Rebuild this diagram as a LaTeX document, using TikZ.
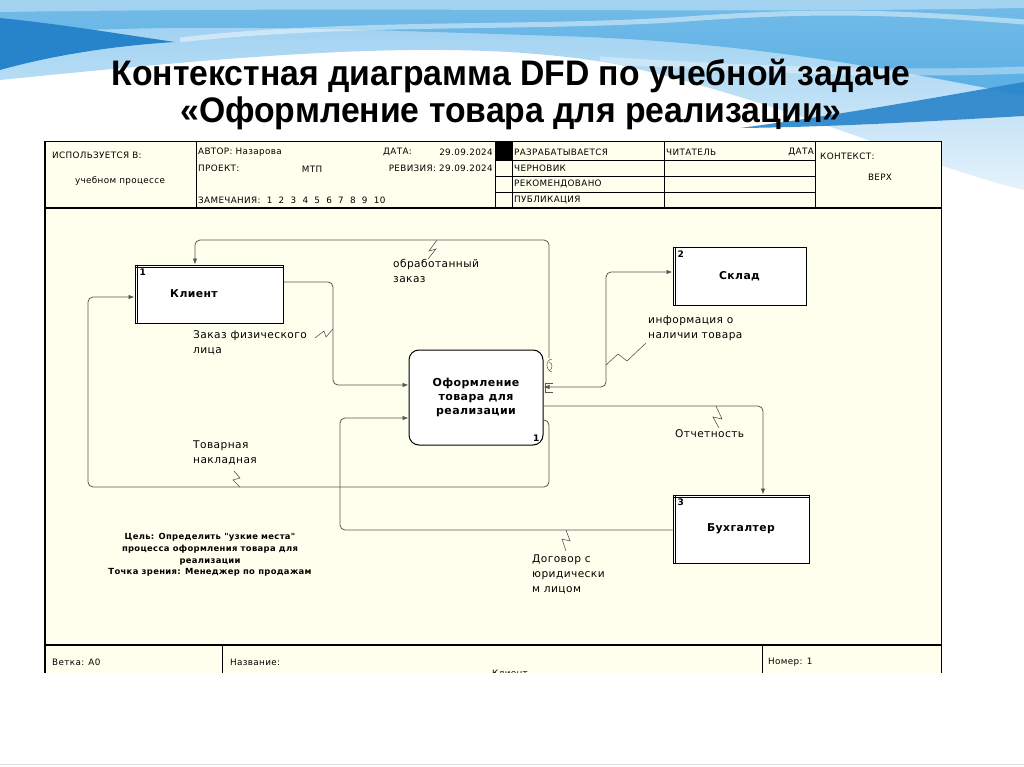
\documentclass[tikz,border=0pt]{standalone}
\usepackage{fontspec}
\setmainfont{DejaVu Sans}
\newfontfamily\titlefont[FakeStretch=0.95]{Liberation Sans}
\newfontfamily\dfd[LetterSpace=4]{DejaVu Sans}
\usetikzlibrary{arrows.meta}
\definecolor{cream}{RGB}{255,255,238}
\definecolor{lineg}{RGB}{85,85,85}
\definecolor{bluea}{RGB}{150,205,240}
\definecolor{blueb}{RGB}{90,175,228}
\definecolor{bluec}{RGB}{40,132,202}
\begin{document}
\begin{tikzpicture}[x=1pt,y=-1pt,
  hdr/.style={font=\dfd\fontsize{8.8}{10}\selectfont, inner sep=0pt, anchor=west},
  lbl/.style={font=\dfd\fontsize{10.6}{15}\selectfont, align=left, inner sep=0pt, anchor=north west},
  flow/.style={draw=lineg, line width=0.8pt, rounded corners=5pt},
  tip/.style={-{Latex[length=6pt,width=4.5pt]}},
  zz/.style={draw=lineg, line width=0.6pt},
  entity/.style={draw=black, line width=1pt, fill=white, inner sep=0pt, font=\dfd\bfseries\fontsize{10.8}{12}\selectfont},
  procbox/.style={draw=black, line width=1pt, fill=white, rounded corners=10pt, inner sep=0pt, align=center, font=\dfd\bfseries\fontsize{11}{14}\selectfont},
  numtxt/.style={font=\bfseries\fontsize{9}{10}\selectfont, inner sep=0pt},
  frameline/.style={draw=black, line width=0.6pt},
  thickline/.style={draw=black, line width=1.4pt}]
\useasboundingbox (0,0) rectangle (1024,767);
\fill[white] (0,0) rectangle (1024,767);
% ---- blue waves ----
\shade[top color=bluea, bottom color=bluea!25] (0,0) -- (1024,0) -- (1024,190) .. controls (920,165) and (780,100) .. (620,65) .. controls (460,35) and (250,55) .. (0,80) -- cycle;
\shade[top color=blueb!85, bottom color=blueb] (0,0) -- (1024,0) -- (1024,95) .. controls (900,72) and (760,42) .. (560,36) .. controls (360,30) and (200,22) .. (0,34) -- cycle;
\fill[bluec] (0,18) .. controls (60,24) and (120,34) .. (175,42) .. controls (110,46) and (50,56) .. (0,70) -- cycle;
\fill[bluec, opacity=0.9] (740,128) .. controls (840,115) and (950,95) .. (1024,82) -- (1024,116) .. controls (950,120) and (840,127) .. (740,128) -- cycle;
\fill[white, opacity=0.35] (0,0) -- (1024,0) -- (1024,8) .. controls (700,14) and (400,6) .. (0,12) -- cycle;
\draw[white, opacity=0.45, line width=5pt] (180,40) .. controls (350,20) and (550,30) .. (700,18) .. controls (820,10) and (900,12) .. (1024,22);
\draw[white, opacity=0.35, line width=7pt] (600,60) .. controls (760,70) and (900,75) .. (1024,70);
\draw[gray!25] (0,764) -- (1024,764);
% ---- title ----
\node[font=\titlefont\bfseries\fontsize{35.5}{40}\selectfont, inner sep=0pt] (t1) at (511,76) {Контекстная диаграмма DFD по учебной задаче};
\node[font=\titlefont\bfseries\fontsize{35.5}{40}\selectfont, inner sep=0pt] (t2) at (511,113) {«Оформление товара для реализации»};
% ---- frame ----
\begin{scope}
\clip (40,130) rectangle (950,672);
\fill[cream] (45,141) rectangle (941,700);
\draw[frameline] (45,141) -- (941,141);
\draw[thickline] (45,141) -- (45,700);
\draw[frameline] (941,141) -- (941,700);
\draw[thickline] (45,208) -- (941,208);
\draw[thickline] (45,645) -- (941,645);
\foreach \x in {196,495,512,664,815} \draw[frameline] (\x,141) -- (\x,208);
\foreach \y in {160,176,192} \draw[frameline] (495,\y) -- (815,\y);
\fill[black] (495,141) rectangle (512,160);
\draw[frameline] (222,645) -- (222,700);
\draw[frameline] (762,645) -- (762,700);
% header text
\node[hdr] (h1) at (52,155) {ИСПОЛЬЗУЕТСЯ В:};
\node[hdr, anchor=center] (h2) at (120,181) {учебном процессе};
\node[hdr] (h3) at (198,152) {АВТОР: Назарова};
\node[hdr] (h4) at (383,152) {ДАТА:};
\node[hdr, anchor=east] (h5) at (493,152) {29.09.2024};
\node[hdr] (h6) at (198,168) {ПРОЕКТ:};
\node[hdr, anchor=center] (h7) at (312,169) {МТП};
\node[hdr, anchor=east] (h8) at (493,168) {РЕВИЗИЯ: 29.09.2024};
\node[hdr] (h9) at (198,200) {ЗАМЕЧАНИЯ:\ \ 1\ \ 2\ \ 3\ \ 4\ \ 5\ \ 6\ \ 7\ \ 8\ \ 9\ \ 10};
\node[hdr] (h10) at (514,152) {РАЗРАБАТЫВАЕТСЯ};
\node[hdr] (h11) at (514,168) {ЧЕРНОВИК};
\node[hdr] (h12) at (514,184) {РЕКОМЕНДОВАНО};
\node[hdr] (h13) at (514,200) {ПУБЛИКАЦИЯ};
\node[hdr] (h14) at (666,152) {ЧИТАТЕЛЬ};
\node[hdr, anchor=east] (h15) at (814,152) {ДАТА};
\node[hdr] (h16) at (820,156) {КОНТЕКСТ:};
\node[hdr, anchor=center] (h17) at (880,177) {ВЕРХ};
% footer text
\node[hdr] (f1) at (52,662) {Ветка: A0};
\node[hdr] (f2) at (230,662) {Название:};
\node[hdr, anchor=center] (f3) at (510,673) {Клиент};
\node[hdr] (f4) at (768,662) {Номер: 1};
\end{scope}
% ---- nodes ----
\node[entity, minimum width=148pt, minimum height=58pt] (klient) at (209,294) {};
\node[entity, draw=none, fill=none] (klientlbl) at (194,294) {Клиент};
\node[entity, minimum width=133pt, minimum height=58pt] (sklad) at (739.5,276) {Склад};
\node[entity, minimum width=136pt, minimum height=68pt] (buh) at (741,529) {Бухгалтер};
\node[procbox, minimum width=134pt, minimum height=95pt] (proc) at (476,397.5) {Оформление\\товара для\\реализации};
% double borders
\draw[black, line width=0.8pt] ([xshift=3pt]klient.north west) -- ([xshift=3pt]klient.south west);
\draw[black, line width=0.8pt] ([yshift=-2.5pt]klient.north west) -- ([yshift=-2.5pt]klient.north east);
\draw[black, line width=0.8pt] ([xshift=3pt]sklad.north west) -- ([xshift=3pt]sklad.south west);
\draw[black, line width=0.8pt] ([xshift=3pt]buh.north west) -- ([xshift=3pt]buh.south west);
\draw[black, line width=0.8pt] ([yshift=-2.5pt]buh.north west) -- ([yshift=-2.5pt]buh.north east);
% numbers
\node[numtxt, anchor=north west] (n1) at ([xshift=5pt,yshift=-4pt]klient.north west) {1};
\node[numtxt, anchor=north west] (n2) at ([xshift=5pt,yshift=-4pt]sklad.north west) {2};
\node[numtxt, anchor=north west] (n3) at ([xshift=5pt,yshift=-4pt]buh.north west) {3};
\node[numtxt, anchor=south east] (n4) at ([xshift=-4pt,yshift=4pt]proc.south east) {1};
% tunnels
\coordinate (tunA) at (549,358);
\draw[lineg, line width=0.5pt] (552,359) .. controls (545,360) and (545,370) .. (552,372);
\draw[lineg, line width=0.5pt] (549,362) .. controls (553,363) and (553,369) .. (549,371);
\draw[lineg, line width=0.5pt] (553,383) -- (545,383) -- (545,392) -- (553,392);
% ---- flows ----
\draw[flow, tip] (tunA) -- (549,240) -- (195,240) -- ([xshift=-14pt]klient.north);
\draw[flow, tip] ([yshift=12pt]klient.east) -- (333,282) -- (333,385) -- ([yshift=12.5pt]proc.west);
\draw[flow, tip] ([yshift=-22.5pt]proc.east) -- (549,420) -- (549,487) -- (88,487) -- (88,297) -- ([yshift=-3pt]klient.west);
\draw[flow, {Latex[length=6pt,width=4.5pt]}-{Latex[length=6pt,width=4.5pt]}] ([yshift=10.5pt]proc.east) -- (606,387) -- (606,272) -- ([yshift=4pt]sklad.west);
\draw[flow, tip] ([yshift=-8.5pt]proc.east) -- (763,406) -- ([xshift=22pt]buh.north);
\draw[flow, tip] ([yshift=-1pt]buh.west) -- (340,530) -- (340,418) -- ([yshift=-20.5pt]proc.west);
% ---- labels ----
\node[lbl] (l1) at (393,259) {обработанный\\заказ};
\node[lbl] (l2) at (193,330) {Заказ физического\\лица};
\node[lbl] (l3) at (193,441) {Товарная\\накладная};
\node[lbl] (l4) at (648,316) {информация о\\наличии товара};
\node[lbl] (l5) at (675,429) {Отчетность};
\node[lbl] (l6) at (532,555) {Договор с\\юридически\\м лицом};
% zigzags
\draw[zz] (437,240) -- (429,251) -- (436,249) -- (428,259);
\draw[zz] (333,329) -- (326,337) -- (324,331) -- (315,338);
\draw[zz] (234,471) -- (240,478) -- (233,480) -- (240,487);
\draw[zz] (606,365) -- (618,354) -- (627,361) -- (646,343);
\draw[zz] (716,406) -- (722,419) -- (713,417) -- (719,428);
\draw[zz] (566,530) -- (570,541) -- (562,539) -- (566,551);
% goal text
\node[font=\dfd\bfseries\fontsize{8.4}{11.6}\selectfont, align=center, inner sep=0pt] (goal) at (210,555) {Цель: Определить "узкие места"\\процесса оформления товара для\\реализации\\Точка зрения: Менеджер по продажам};
\end{tikzpicture}
\end{document}
